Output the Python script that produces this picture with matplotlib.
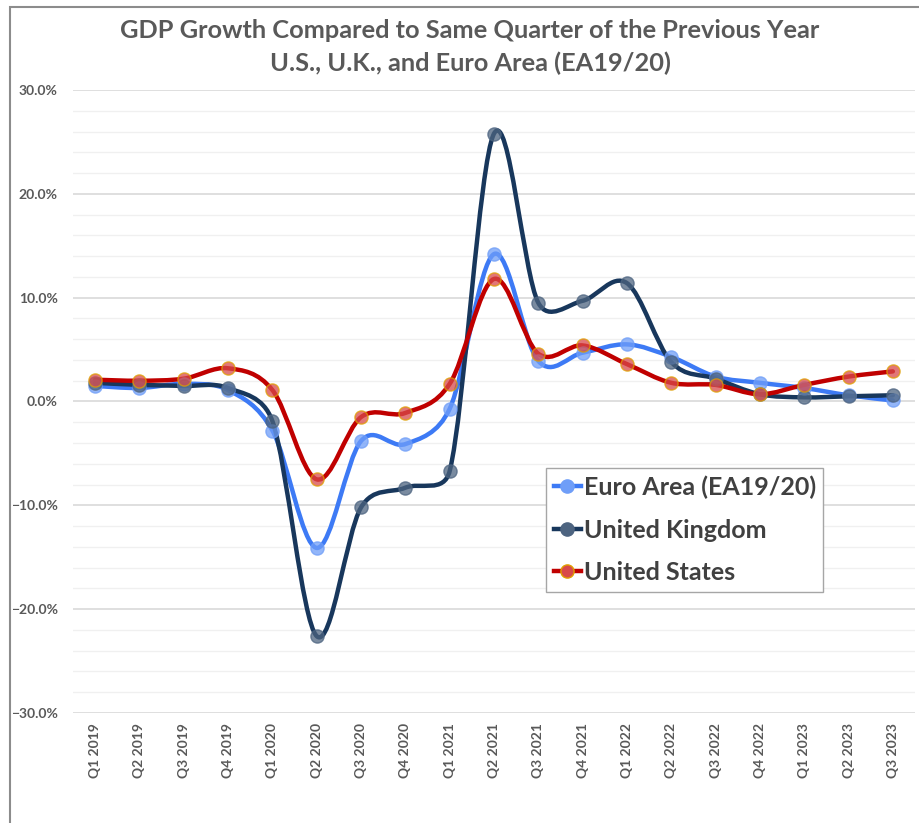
import matplotlib.pyplot as plt
import numpy as np
from matplotlib.path import Path
from matplotlib.patches import PathPatch, Rectangle
from matplotlib.lines import Line2D
from matplotlib.ticker import MultipleLocator, PercentFormatter

quarters = ["Q1 2019", "Q2 2019", "Q3 2019", "Q4 2019",
            "Q1 2020", "Q2 2020", "Q3 2020", "Q4 2020",
            "Q1 2021", "Q2 2021", "Q3 2021", "Q4 2021",
            "Q1 2022", "Q2 2022", "Q3 2022", "Q4 2022",
            "Q1 2023", "Q2 2023", "Q3 2023"]

euro = [1.5, 1.3, 1.7, 1.1, -2.8, -14.1, -3.8, -4.1, -0.7, 14.2,
        3.9, 4.7, 5.5, 4.3, 2.4, 1.8, 1.3, 0.6, 0.1]
uk = [1.8, 1.6, 1.5, 1.3, -1.9, -22.6, -10.2, -8.3, -6.7, 25.8,
      9.5, 9.7, 11.4, 3.8, 2.2, 0.7, 0.4, 0.5, 0.6]
us = [2.1, 2.0, 2.2, 3.2, 1.1, -7.5, -1.5, -1.1, 1.7, 11.8,
      4.6, 5.4, 3.6, 1.8, 1.6, 0.7, 1.6, 2.4, 2.9]

series = [
    ("Euro Area (EA19/20)", euro, "#3d7af5", "#6f9ef8", "#6f9ef8"),
    ("United Kingdom", uk, "#18375c", "#4d6480", "#4d6480"),
    ("United States", us, "#c00000", "#d84a4a", "#e0a000"),
]

# rough pixel size of one x unit / one percent, used for the smoothing
SX, SY = 44.3, 10.38


def smooth_path(x, y):
    # Excel-like smoothed line, bezier arms limited to half the segment
    p = np.column_stack([np.asarray(x) * SX, np.asarray(y) * SY]).astype(float)
    n = len(p)
    verts = [p[0]]
    codes = [Path.MOVETO]
    for i in range(n - 1):
        p0 = p[i - 1] if i > 0 else p[i]
        p3 = p[i + 2] if i + 2 < n else p[i + 1]
        seg = np.hypot(*(p[i + 1] - p[i]))
        a1 = (p[i + 1] - p0) / 6
        a2 = (p3 - p[i]) / 6
        for a in (a1, a2):
            la = np.hypot(*a)
            if la > 0.5 * seg:
                a *= 0.5 * seg / la
        verts += [p[i] + a1, p[i + 1] - a2, p[i + 1]]
        codes += [Path.CURVE4] * 3
    verts = np.array(verts) / [SX, SY]
    return Path(verts, codes)


fig = plt.figure(figsize=(9.19, 8.23), dpi=100)
ax = fig.add_axes([73 / 919, 1 - 713 / 823, 842 / 919, 623 / 823])

x = np.arange(len(quarters))
handles = []
for name, vals, lc, mc, me in series:
    ax.add_patch(PathPatch(smooth_path(x, vals), facecolor="none",
                           edgecolor=lc, lw=3.2, zorder=3,
                           capstyle="round", joinstyle="round"))
    ax.plot(x, vals, ls="none", marker="o", ms=9.5, mfc=mc, mec=me,
            mew=1.0, alpha=0.75, zorder=4)
    handles.append(Line2D([], [], color=lc, lw=3.2, marker="o", ms=9.5,
                          mfc=mc, mec=me, mew=1.0))

ax.set_xlim(-0.5, len(quarters) - 0.5)
ax.set_ylim(-30, 30)
ax.yaxis.set_major_locator(MultipleLocator(10))
ax.yaxis.set_minor_locator(MultipleLocator(2))
ax.yaxis.set_major_formatter(PercentFormatter(decimals=1))
ax.grid(axis="y", which="major", color="#d9d9d9", lw=1.2)
ax.grid(axis="y", which="minor", color="#f0f0f0", lw=1.0)
ax.set_axisbelow(True)
for s in ax.spines.values():
    s.set_visible(False)

ax.set_xticks(x)
ax.set_xticklabels(quarters, rotation=90, fontsize=10, fontweight="bold",
                   color="#595959", family="Lato")
ax.tick_params(axis="both", which="both", length=0)
ax.tick_params(axis="x", pad=7)
ax.tick_params(axis="y", pad=11)
for lab in ax.get_yticklabels():
    lab.set_fontsize(10)
    lab.set_fontweight("bold")
    lab.set_color("#595959")
    lab.set_family("Lato")

fig.text(0.5115, 1 - 30 / 823, "GDP Growth Compared to Same Quarter of the Previous Year",
         ha="center", va="center", fontsize=18.3, fontweight="bold",
         color="#595959", family="Lato")
fig.text(0.5115, 1 - 63 / 823, "U.S., U.K., and Euro Area (EA19/20)",
         ha="center", va="center", fontsize=18.3, fontweight="bold",
         color="#595959", family="Lato")

leg = ax.legend(handles, [s[0] for s in series], loc="upper left",
                bbox_to_anchor=(546 / 919, 1 - 468 / 823),
                bbox_transform=fig.transFigure, borderaxespad=0,
                fancybox=False, edgecolor="#a6a6a6", framealpha=1,
                handlelength=1.1, handletextpad=0.1, labelspacing=0.78,
                borderpad=0.3, prop={"family": "Lato", "weight": "bold",
                                     "size": 18})
leg.get_frame().set_linewidth(1.0)
for t in leg.get_texts():
    t.set_color("#404040")

fig.patches.append(Rectangle((10 / 919, -0.1), 1.0, 1.1 - 7 / 823,
                             transform=fig.transFigure, fill=False,
                             edgecolor="#8c8c8c", lw=1.5))

fig.savefig("out.png", dpi=100)
